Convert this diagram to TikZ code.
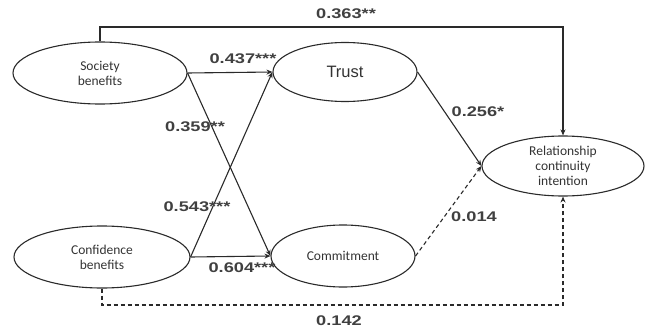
\documentclass[tikz,border=0pt]{standalone}
\usepackage{fontspec}
\usepackage{graphicx}
\setmainfont{Carlito}
\newfontfamily\labfont{Liberation Sans}
\usetikzlibrary{shapes.geometric,arrows.meta}
\definecolor{labgray}{HTML}{404040}
\definecolor{linegray}{HTML}{2a2a2a}
\tikzset{
  construct/.style={ellipse,draw=linegray,line width=1.1pt,inner sep=0pt,align=center,
    font=\fontsize{13.5}{15}\selectfont,text=black!80},
  path/.style={draw=linegray,line width=1.1pt,-{Stealth[length=6pt,width=5pt]}},
  dpath/.style={path,dash pattern=on 4pt off 3pt},
  coef/.style={text=labgray,inner sep=0pt,font=\labfont\bfseries\fontsize{14}{16}\selectfont},
}
\newcommand{\wide}[1]{\scalebox{1.3}[1]{#1}}
\begin{document}
\begin{tikzpicture}[x=1pt,y=-1pt]
\useasboundingbox (0,0) rectangle (648,332);
\node[construct,minimum width=174pt,minimum height=62pt] (soc) at (100,73) {Society\\benefits};
\node[construct,minimum width=176pt,minimum height=62pt] (conf) at (102,257) {Confidence\\benefits};
\node[construct,minimum width=144pt,minimum height=59pt,font=\labfont\fontsize{16.5}{18}\selectfont] (trust) at (345,72) {Trust};
\node[construct,minimum width=144pt,minimum height=62pt] (comm) at (343,256) {Commitment};
\node[construct,minimum width=162pt,minimum height=60pt] (rel) at (563,166) {Relationship\\continuity\\intention};
\coordinate (tl) at (100,27);
\coordinate (tr) at (563,27);
\coordinate (bl) at (102,305);
\coordinate (br) at (563,305);
\draw[path] (soc.east) -- (trust.west);
\draw[path] (soc.east) -- (comm.west);
\draw[path] (conf.east) -- (trust.west);
\draw[path] (conf.east) -- (comm.west);
\draw[path] (trust.east) -- (rel.west);
\draw[dpath] (comm.east) -- (rel.west);
\draw[path] (soc.north) -- (tl) -- (tr) -- (rel.north);
\draw[dpath] (conf.south) -- (bl) -- (br) -- (rel.south);
\node[coef] (c1) at (346,14) {\wide{0.363**}};
\node[coef] (c2) at (243,59) {\wide{0.437***}};
\node[coef] (c3) at (195,127) {\wide{0.359**}};
\node[coef] (c4) at (197,207) {\wide{0.543***}};
\node[coef] (c5) at (242,268) {\wide{0.604***}};
\node[coef] (c6) at (478,112) {\wide{0.256*}};
\node[coef] (c7) at (474,217) {\wide{0.014}};
\node[coef] (c8) at (339,321) {\wide{0.142}};
\end{tikzpicture}
\end{document}
